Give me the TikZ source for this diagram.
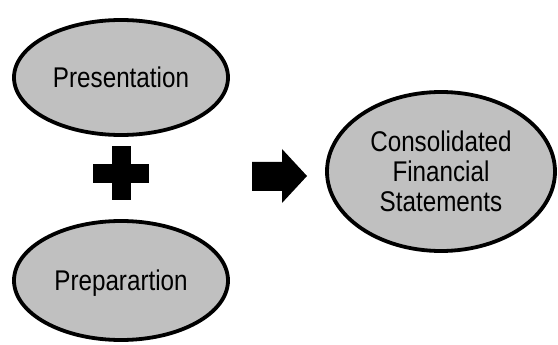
\documentclass[tikz,border=0pt]{standalone}
\usepackage{fontspec}
\setmainfont{Liberation Sans}[FakeStretch=0.85]
\usetikzlibrary{shapes.geometric}
\definecolor{ovalgray}{RGB}{192,192,192}

\begin{document}
\begin{tikzpicture}[x=1pt, y=-1pt]
  \tikzset{
    oval/.style={ellipse, draw=black, line width=3.8pt, fill=ovalgray,
                 inner sep=0pt, align=center,
                 font=\fontsize{28.5}{30}\selectfont},
    oneline/.style={text depth=0pt},
    sym/.style={fill=black}
  }
  \useasboundingbox (0,0) rectangle (558,345);
  \node[oval, oneline, minimum width=214pt, minimum height=115pt] (pres) at (121,77.5) {Presentation};
  \node[oval, oneline, minimum width=214pt, minimum height=119pt] (prep) at (121,280.5) {Preparartion};
  \node[oval, minimum width=228pt, minimum height=159pt] (cfs) at (441,171.5)
    {Consolidated\\Financial\\Statements};
  % plus sign
  \fill[sym] (112,146) rectangle (131,200);
  \fill[sym] (93,164) rectangle (149,183);
  % block arrow
  \fill[sym] (252,162) -- (282,162) -- (282,149) -- (307,176)
    -- (282,203) -- (282,191) -- (252,191) -- cycle;
\end{tikzpicture}
\end{document}
